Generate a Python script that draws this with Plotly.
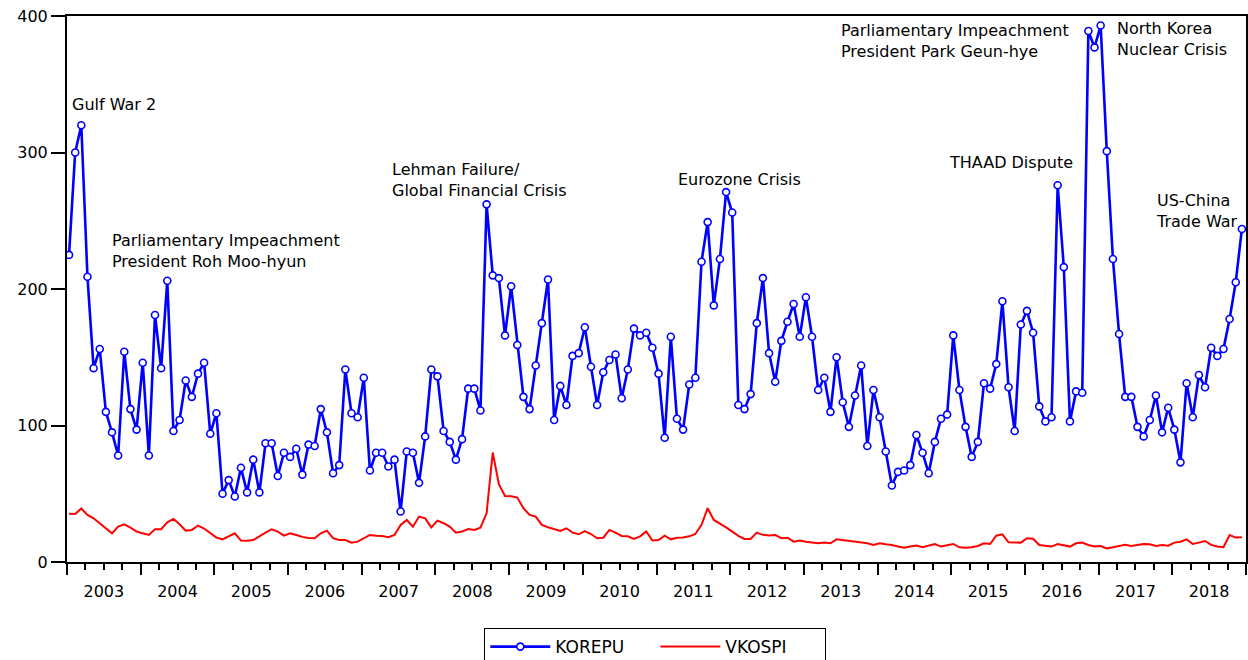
import plotly.graph_objects as go

years = [str(y) for y in range(2003, 2019)]

korepu = [225, 300, 320, 209, 142, 156, 110, 95, 78, 154, 112, 97,
          146, 78, 181, 142, 206, 96, 104, 133, 121, 138, 146, 94,
          109, 50, 60, 48, 69, 51, 75, 51, 87, 87, 63, 80,
          77, 83, 64, 86, 85, 112, 95, 65, 71, 141, 109, 106,
          135, 67, 80, 80, 70, 75, 37, 81, 80, 58, 92, 141,
          136, 96, 88, 75, 90, 127, 127, 111, 262, 210, 208, 166,
          202, 159, 121, 112, 144, 175, 207, 104, 129, 115, 151, 153,
          172, 143, 115, 139, 148, 152, 120, 141, 171, 166, 168, 157,
          138, 91, 165, 105, 97, 130, 135, 220, 249, 188, 222, 271,
          256, 115, 112, 123, 175, 208, 153, 132, 162, 176, 189, 165,
          194, 165, 126, 135, 110, 150, 117, 99, 122, 144, 85, 126,
          106, 81, 56, 66, 67, 71, 93, 80, 65, 88, 105, 108,
          166, 126, 99, 77, 88, 131, 127, 145, 191, 128, 96, 174,
          184, 168, 114, 103, 106, 276, 216, 103, 125, 124, 389, 377,
          393, 301, 222, 167, 121, 121, 99, 92, 104, 122, 95, 113,
          97, 73, 131, 106, 137, 128, 157, 151, 156, 178, 205, 244]

vkospi = [35.4, 35.2, 39.2, 34.5, 32, 28.4, 25.2, 21, 25.9, 27.6, 25.2, 22.3,
          21, 19.8, 24, 24, 29.1, 31.6, 27.6, 23, 23.5, 26.7, 24.5, 21,
          17.9, 16.6, 18.6, 21, 15.7, 15.5, 16.1, 19.1, 21.5, 24, 22.3, 19.3,
          21, 19.8, 18.4, 17.6, 17.4, 21, 23, 17.4, 16.1, 16.1, 14.2, 14.9,
          17.4, 19.8, 19.3, 19.1, 18.1, 19.8, 27.2, 30.8, 25.9, 33.3, 32, 25.4,
          30.3, 28.4, 25.9, 21.5, 22.3, 24.2, 23.5, 25.2, 35.7, 80.2, 57, 48.4,
          48.2, 47.2, 39.4, 34.5, 33.3, 27.2, 25.4, 24, 22.7, 24.7, 21.5, 20.3,
          22.7, 20.5, 17.4, 17.8, 23.5, 21.5, 19.1, 18.8, 16.9, 18.8, 22.3, 15.7,
          16.1, 19.3, 16.6, 17.8, 18, 18.8, 20.5, 27.2, 39.4, 30.8, 28.4, 25.4,
          22.3, 19.1, 16.9, 16.9, 21.5, 19.9, 19.5, 19.8, 17.4, 17.8, 14.9, 15.7,
          14.9, 14.4, 13.7, 14.2, 13.7, 16.6, 16.1, 15.7, 14.9, 14.2, 13.7, 12.5,
          13.7, 13, 12.5, 11.3, 10.5, 11.3, 12, 10.8, 12, 13.2, 11.3, 12.5,
          13.2, 10.8, 10.5, 10.8, 11.7, 13.7, 13.2, 19.3, 20.3, 14.4, 14.2, 14.2,
          17.4, 17, 12.5, 12, 11.3, 13.2, 12, 11.3, 13.7, 14.2, 12.5, 11.3,
          11.7, 10, 10.8, 12, 12.7, 11.7, 12.2, 13.2, 13, 11.7, 12.5, 12,
          14.2, 14.9, 16.6, 13.2, 14.2, 15.4, 12.5, 11.3, 10.8, 19.8, 17.9, 18.1]

events = ["Gulf War 2",
          "Parliamentary Impeachment<br>President Roh Moo-hyun",
          "Lehman Failure/<br>Global Financial Crisis",
          "Eurozone Crisis",
          "Parliamentary Impeachment<br>President Park Geun-hye",
          "THAAD Dispute",
          "North Korea<br>Nuclear Crisis",
          "US-China<br>Trade War"]
event_x = [0.1, 6.6, 52.3, 98.8, 125.4, 142.9, 170.3, 176.7]
event_y = [335, 228, 280, 280, 382, 293, 383, 257]

FONT = "DejaVu Sans"
n = len(korepu)
idx = list(range(n))
off = 0.33
xr = [-off, n - off]
bounds = [12 * k - off for k in range(len(years) + 1)]
quarters = [3 * k - off for k in range(n // 3 + 1) if k % 4 != 0]
centers = [12 * k + 6 - off for k in range(len(years))]

fig = go.Figure()
fig.add_trace(go.Scatter(
    x=idx, y=korepu, name="KOREPU", mode="lines+markers",
    line=dict(color="#0000FF", width=2.6),
    marker=dict(symbol="circle", size=7, color="white",
                line=dict(color="#0000FF", width=1.6))))
fig.add_trace(go.Scatter(
    x=idx, y=vkospi, name="VKOSPI", mode="lines",
    line=dict(color="#FF0000", width=2)))
# invisible trace for the year-label axis
fig.add_trace(go.Scatter(x=[xr[0]], y=[0], xaxis="x2", mode="markers",
                         marker=dict(opacity=0), showlegend=False,
                         hoverinfo="skip"))

for t, x, y in zip(events, event_x, event_y):
    fig.add_annotation(x=x, y=y, xref="x", yref="y", text=t,
                       showarrow=False, xanchor="left", yanchor="middle",
                       align="left",
                       font=dict(family=FONT, size=16, color="black"))

fig.update_layout(
    width=1248, height=660,
    margin=dict(l=67, r=2, t=16, b=98, autoexpand=False),
    paper_bgcolor="white", plot_bgcolor="white",
    font=dict(family=FONT, size=16, color="black"),
    showlegend=True,
    legend=dict(orientation="h", x=0.499, xanchor="center",
                y=-0.121, yanchor="top",
                bordercolor="black", borderwidth=1,
                font=dict(family=FONT, size=17),
                entrywidth=95, itemwidth=60),
    xaxis=dict(range=xr, tickmode="array", tickvals=bounds,
               ticktext=[""] * len(bounds), automargin=False,
               ticks="outside", ticklen=11, tickwidth=1.5,
               tickcolor="black",
               minor=dict(tickmode="array", tickvals=quarters,
                          ticks="outside", ticklen=6, tickwidth=1.5,
                          tickcolor="black", showgrid=False),
               showline=True, linecolor="black", linewidth=2,
               mirror=True, showgrid=False, zeroline=False),
    xaxis2=dict(range=xr, overlaying="x", anchor="y", side="bottom",
                tickmode="array", tickvals=centers, ticktext=years,
                ticks="", showline=False, showgrid=False, zeroline=False,
                ticklabelstandoff=18, automargin=False,
                tickfont=dict(family=FONT, size=16)),
    yaxis=dict(range=[0, 400], tickmode="array",
               tickvals=[0, 100, 200, 300, 400], automargin=False,
               ticks="outside", ticklen=14, tickwidth=1.5,
               tickcolor="black", ticklabelstandoff=0,
               showline=True, linecolor="black", linewidth=2,
               mirror=True, showgrid=False, zeroline=False,
               tickfont=dict(family=FONT, size=16)),
)

fig.write_html("out.html", config={"displayModeBar": False},
               post_script="document.body.style.margin='0';"
                           "document.body.style.overflow='hidden';")
